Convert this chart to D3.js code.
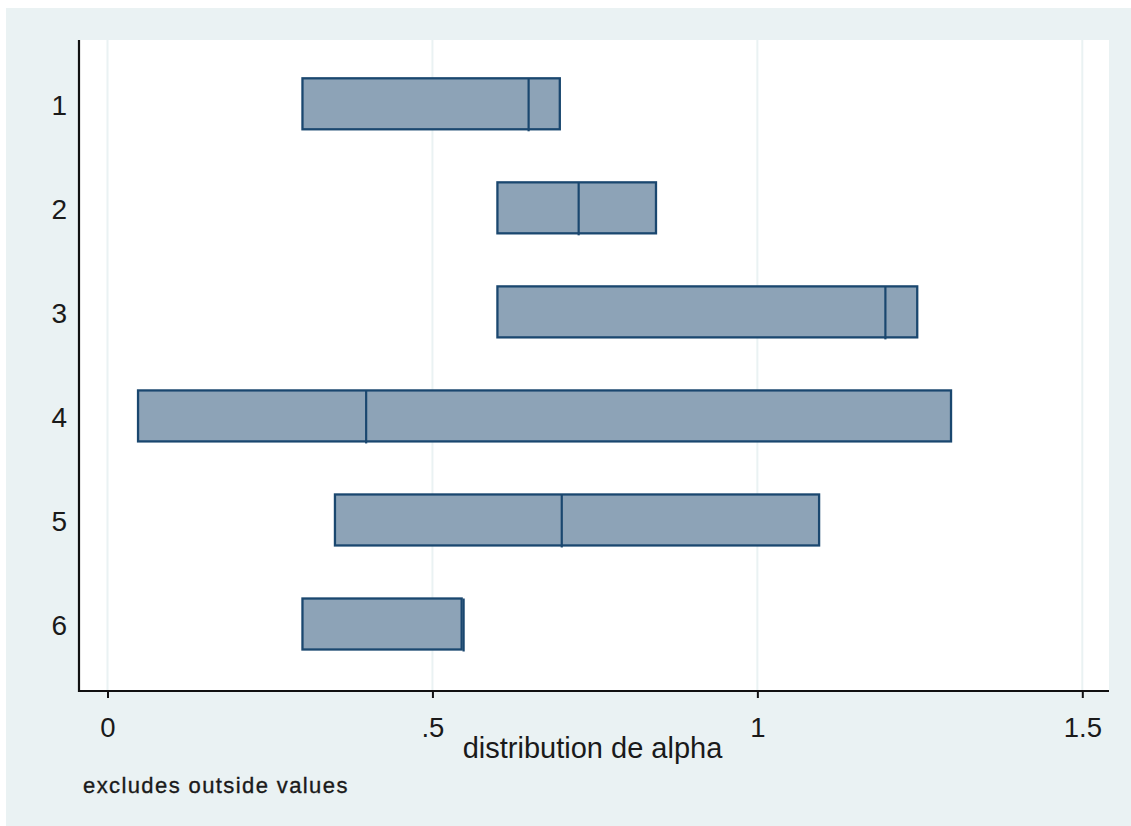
<!DOCTYPE html>
<html>
<head>
<meta charset="utf-8">
<script src="https://cdn.jsdelivr.net/npm/d3@7"></script>
<style>
  html, body { margin: 0; padding: 0; background: #ffffff; }
  svg { display: block; }
  text { font-family: "Liberation Sans", Arial, sans-serif; fill: #1a1a1a; }
</style>
</head>
<body>
<svg id="chart" width="1131" height="826"></svg>
<script>
// Box plot of alpha by group (median and interquartile range)
const categories = ["1", "2", "3", "4", "5", "6"];
const q1Values     = [0.300, 0.600, 0.600, 0.047, 0.350, 0.300];
const medianValues = [0.648, 0.725, 1.197, 0.398, 0.699, 0.548];
const q3Values     = [0.696, 0.844, 1.246, 1.298, 1.095, 0.545];

const xTickValues = [0, 0.5, 1, 1.5];
const xTickLabels = ["0", ".5", "1", "1.5"];

const xTitle = "distribution de alpha";
const noteText = "excludes outside values";

const boxes = categories.map((c, i) => ({
  cat: c, q1: q1Values[i], med: medianValues[i], q3: q3Values[i]
}));

const W = 1131, H = 826;
const plot = { left: 79, right: 1109, top: 40, bottom: 691 };
const navy = "#1a476f";
const boxFill = "#8da3b7";
const regionBg = "#eaf2f3";

const svg = d3.select("#chart");

// graph region and plot region
svg.append("rect").attr("x", 6).attr("y", 8)
  .attr("width", W - 6).attr("height", H - 8).attr("fill", regionBg);
svg.append("rect").attr("x", plot.left).attr("y", plot.top)
  .attr("width", plot.right - plot.left).attr("height", plot.bottom - plot.top)
  .attr("fill", "#ffffff");

const x = d3.scaleLinear().domain([0, 1.5]).range([107.5, 1082.3]);
const y = d3.scalePoint().domain(categories).range([103.8, 624]);
const boxH = 51;

// vertical gridlines
svg.append("g").selectAll("line").data(xTickValues).join("line")
  .attr("x1", d => x(d)).attr("x2", d => x(d))
  .attr("y1", plot.top).attr("y2", plot.bottom)
  .attr("stroke", regionBg).attr("stroke-width", 2);

// boxes
const g = svg.append("g");
g.selectAll("rect.box").data(boxes).join("rect")
  .attr("class", "box")
  .attr("x", d => x(d.q1))
  .attr("y", d => y(d.cat) - boxH / 2)
  .attr("width", d => x(d.q3) - x(d.q1))
  .attr("height", boxH)
  .attr("fill", boxFill)
  .attr("stroke", navy)
  .attr("stroke-width", 2.3);

g.selectAll("line.median").data(boxes).join("line")
  .attr("class", "median")
  .attr("x1", d => x(d.med)).attr("x2", d => x(d.med))
  .attr("y1", d => y(d.cat) - boxH / 2)
  .attr("y2", d => y(d.cat) + boxH / 2 + 2)
  .attr("stroke", navy)
  .attr("stroke-width", 2.2);

// x axis
const xAxis = d3.axisBottom(x)
  .tickValues(xTickValues)
  .tickFormat((d, i) => xTickLabels[i])
  .tickSize(7)
  .tickPadding(19);
const ax = svg.append("g").attr("transform", `translate(0,${plot.bottom})`).call(xAxis);
ax.select(".domain").remove();
ax.selectAll(".tick line").attr("stroke", "#111").attr("stroke-width", 2);
ax.selectAll(".tick text")
  .style("font-family", '"Liberation Sans", Arial, sans-serif')
  .style("font-size", "27.5px")
  .attr("fill", "#1a1a1a");

// axis lines
svg.append("line")
  .attr("x1", plot.left - 1).attr("x2", plot.right)
  .attr("y1", plot.bottom).attr("y2", plot.bottom)
  .attr("stroke", "#111").attr("stroke-width", 2.2);
svg.append("line")
  .attr("x1", plot.left).attr("x2", plot.left)
  .attr("y1", plot.top).attr("y2", plot.bottom + 1)
  .attr("stroke", "#111").attr("stroke-width", 2.2);

// category labels
svg.append("g").selectAll("text").data(categories).join("text")
  .attr("x", 67)
  .attr("y", d => y(d) + 1.5)
  .attr("dy", "0.35em")
  .attr("text-anchor", "end")
  .style("font-size", "28px")
  .text(d => d);

// axis title
svg.append("text")
  .attr("x", 592.5).attr("y", 758)
  .attr("text-anchor", "middle")
  .style("font-size", "29px")
  .text(xTitle);

// note
svg.append("text")
  .attr("x", 83).attr("y", 793)
  .style("font-size", "22px")
  .style("letter-spacing", "1.4px")
  .attr("stroke", "#1a1a1a")
  .attr("stroke-width", 0.35)
  .text(noteText);
</script>
</body>
</html>
